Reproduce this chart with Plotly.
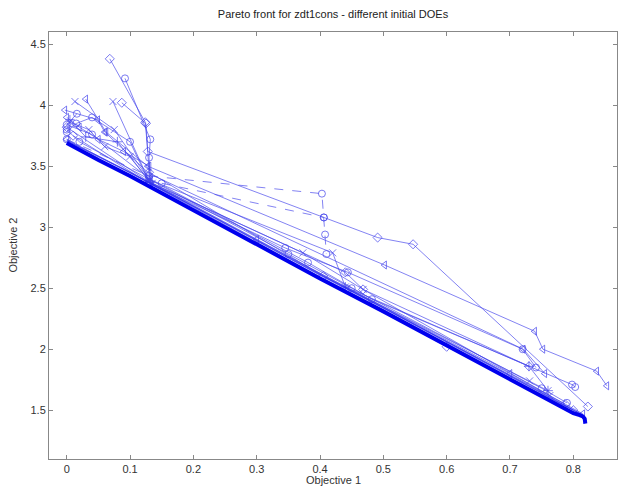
import plotly.graph_objects as go

# Pareto front (thick line)
front_x = [0.0, 0.05, 0.1, 0.15, 0.2, 0.3, 0.4, 0.5, 0.6, 0.7, 0.75, 0.78, 0.8, 0.81, 0.815, 0.818, 0.819]
front_y = [3.69, 3.55, 3.42, 3.28, 3.14, 2.86, 2.58, 2.31, 2.03, 1.75, 1.61, 1.53, 1.475, 1.46, 1.45, 1.43, 1.39]

front2_x = [0.0, 0.1, 0.2, 0.3, 0.4, 0.5, 0.6, 0.7, 0.8, 0.815]
front2_y = [3.71, 3.45, 3.17, 2.89, 2.61, 2.34, 2.06, 1.78, 1.50, 1.46]

# DOE histories
runs_x = [
    [0.068, 0.124, 0.128, 0.491, 0.547, 0.823],
    [0.092, 0.132, 0.130, 0.131, 0.345, 0.444, 0.72, 0.741],
    [0.030, 0.062, 0.128, 0.502, 0.739, 0.752, 0.837, 0.853],
    [0.013, 0.075, 0.13, 0.42, 0.44, 0.731, 0.76],
    [0.073, 0.13, 0.135, 0.373, 0.468, 0.763],
    [0.016, 0.0, 0.04, 0.13, 0.381, 0.482, 0.798, 0.803],
    [0.087, 0.125, 0.13, 0.405, 0.787],
    [0.0, 0.13, 0.403, 0.406, 0.408, 0.41],
    [0.15, 0.406],
    [-0.003, 0.049, 0.06, 0.13, 0.721, 0.755],
    [0.005, 0.03, 0.08, 0.132, 0.44, 0.73, 0.76],
    [0.0, 0.02, 0.35, 0.45, 0.75, 0.79],
    [0.01, 0.13, 0.6, 0.8],
    [0.0, 0.3, 0.7, 0.815],
    [0.0, 0.02, 0.05, 0.09, 0.13],
    [0.005, 0.035, 0.06, 0.1, 0.13],
    [0.0, 0.015, 0.04, 0.1, 0.13],
    [0.0, 0.13, 0.44, 0.468, 0.73],
]
runs_y = [
    [4.38, 3.86, 3.62, 2.915, 2.86, 1.53],
    [4.22, 3.72, 3.57, 3.36, 2.83, 2.63, 2.0, 1.85],
    [4.05, 3.78, 3.50, 2.69, 2.147, 2.0, 1.82, 1.70],
    [4.03, 3.80, 3.39, 2.79, 2.51, 1.74, 1.66],
    [4.03, 3.38, 3.36, 2.79, 2.49, 1.62],
    [3.93, 3.84, 3.76, 3.40, 2.71, 2.41, 1.71, 1.69],
    [4.02, 3.85, 3.45, 2.60, 1.55],
    [3.72, 3.42, 3.275, 3.08, 2.94, 2.78],
    [3.36, 3.08],
    [3.96, 3.88, 3.78, 3.44, 2.0, 1.80],
    [3.88, 3.74, 3.70, 3.37, 2.51, 1.86, 1.66],
    [3.80, 3.70, 2.78, 2.5, 1.68, 1.56],
    [3.75, 3.36, 2.02, 1.50],
    [3.72, 2.9, 1.80, 1.47],
    [3.90, 3.82, 3.72, 3.62, 3.5],
    [3.86, 3.8, 3.66, 3.58, 3.38],
    [3.78, 3.85, 3.9, 3.7, 3.37],
    [3.82, 3.37, 2.63, 2.49, 1.86],
]
runs_marker = ["diamond-open", "circle-open", "triangle-left-open", "x-thin-open", "x-thin-open",
               "circle-open", "diamond-open", "circle-open", "circle-open", "triangle-left-open",
               "cross-thin-open", "circle-open", "diamond-open", "triangle-left-open",
               "triangle-left-open", "x-thin-open", "circle-open", "diamond-open"]
runs_dash = ["solid"] * 7 + ["dash", "dash"] + ["solid"] * 9

x_ticks = [0, 0.1, 0.2, 0.3, 0.4, 0.5, 0.6, 0.7, 0.8]
y_ticks = [1.5, 2, 2.5, 3, 3.5, 4, 4.5]

fig = go.Figure()
for xs, ys, m, d in zip(runs_x, runs_y, runs_marker, runs_dash):
    fig.add_trace(go.Scatter(
        x=xs, y=ys, mode="lines+markers",
        line=dict(color="rgba(70,70,235,0.75)", width=0.9, dash=d),
        marker=dict(symbol=m, size=7, color="rgba(70,70,235,0.8)", line=dict(width=0.9)),
        showlegend=False, hoverinfo="skip"))

fig.add_trace(go.Scatter(x=front2_x, y=front2_y, mode="lines",
                         line=dict(color="rgba(40,40,240,0.8)", width=1.5),
                         showlegend=False, hoverinfo="skip"))
fig.add_trace(go.Scatter(x=front_x, y=front_y, mode="lines",
                         line=dict(color="#0000ee", width=4),
                         showlegend=False, hoverinfo="skip"))

font = dict(family="Liberation Sans, Arial, sans-serif", size=11, color="#333333")
axis_common = dict(showgrid=False, zeroline=False, showline=True, linecolor="#888888",
                   linewidth=1, mirror="ticks", ticks="inside", ticklen=4,
                   tickcolor="#888888", tickfont=font, automargin=False)

fig.update_layout(
    width=619, height=490,
    margin=dict(l=49, r=2, t=32, b=31, autoexpand=False),
    paper_bgcolor="white", plot_bgcolor="white",
    title=dict(text="Pareto front for zdt1cons - different initial DOEs",
               x=0.5, xref="paper", xanchor="center", y=0.971, yanchor="middle",
               yref="container", font=dict(family="Liberation Sans, Arial, sans-serif",
                                           size=11, color="#222222")),
    xaxis=dict(range=[-0.028, 0.869], tickvals=x_ticks, **axis_common),
    yaxis=dict(range=[1.1, 4.6], tickvals=y_ticks, **axis_common),
    annotations=[
        dict(text="Objective 1", xref="paper", yref="paper", x=0.5, y=-0.049,
             xanchor="center", yanchor="middle", showarrow=False, font=font),
        dict(text="Objective 2", xref="paper", yref="paper", x=-0.065, y=0.5,
             xanchor="center", yanchor="middle", textangle=-90, showarrow=False, font=font),
    ],
)

fig.write_html("out.html", config={"displayModeBar": False},
               post_script="document.body.style.margin='0';document.body.style.overflow='hidden';")
